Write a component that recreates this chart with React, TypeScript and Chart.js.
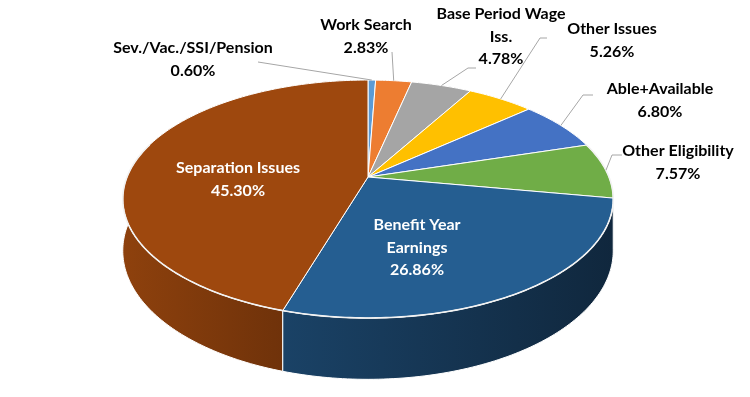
import React, { useEffect, useRef } from 'react';
import { Chart, PieController, ArcElement } from 'chart.js';

Chart.register(PieController, ArcElement);

// ---- data ----
const categories = [
  'Sev./Vac./SSI/Pension',
  'Work Search',
  'Base Period Wage Iss.',
  'Other Issues',
  'Able+Available',
  'Other Eligibility',
  'Benefit Year Earnings',
  'Separation Issues',
];
const shares = [0.6, 2.83, 4.78, 5.26, 6.8, 7.57, 26.86, 45.3];
const labelLines = [
  ['Sev./Vac./SSI/Pension'],
  ['Work Search'],
  ['Base Period Wage', 'Iss.'],
  ['Other Issues'],
  ['Able+Available'],
  ['Other Eligibility'],
  ['Benefit Year', 'Earnings'],
  ['Separation Issues'],
];
const topColors = ['#5B9BD5', '#ED7D31', '#A5A5A5', '#FFC000', '#4472C4', '#70AD47', '#255E91', '#9E480E'];

// ---- layout (3D perspective projection of the pie) ----
const CX = 368;
const CY = 177;
const RX = 241;
const PERSP = -0.185;
const RY = 114.9;
const DEPTH = 50;
const LINE_H = 22.5;
const FONT = 'bold 16px Lato, "Open Sans", sans-serif';

type LabelLayout = { x: number; y: number; inside: boolean; leader: number[][] };
const labelLayout: LabelLayout[] = [
  { x: 193, y: 48, inside: false, leader: [[258, 62]] },
  { x: 366, y: 25, inside: false, leader: [[392, 52]] },
  { x: 501, y: 14, inside: false, leader: [[476, 68], [468, 68]] },
  { x: 612, y: 29, inside: false, leader: [[547, 38], [540, 38]] },
  { x: 660, y: 89, inside: false, leader: [[593, 95], [583, 95]] },
  { x: 678, y: 151, inside: false, leader: [[622, 155], [612, 155]] },
  { x: 417, y: 225, inside: true, leader: [] },
  { x: 238, y: 168, inside: true, leader: [] },
];

function proj(t: number, d = 0): [number, number] {
  const u = Math.sin(t);
  const v = -Math.cos(t);
  const den = 1 + PERSP * v;
  return [CX + (RX * u) / den, CY + (RY * v + d) / den];
}

function shade(hex: string, f: number): string {
  const n = parseInt(hex.slice(1), 16);
  const r = Math.round(((n >> 16) & 255) * f);
  const g = Math.round(((n >> 8) & 255) * f);
  const b = Math.round((n & 255) * f);
  return `rgb(${r},${g},${b})`;
}

function arcPoints(t1: number, t2: number, d: number): [number, number][] {
  const pts: [number, number][] = [];
  const steps = Math.max(2, Math.ceil(((t2 - t1) / (Math.PI * 2)) * 360));
  for (let k = 0; k <= steps; k++) {
    pts.push(proj(t1 + ((t2 - t1) * k) / steps, d));
  }
  return pts;
}

const pie3d = {
  id: 'pie3d',
  beforeDatasetsDraw(chart: any) {
    const ctx: CanvasRenderingContext2D = chart.ctx;
    const meta = chart.getDatasetMeta(0);
    const arcs = meta.data.map((el: any, i: number) => ({
      i,
      t1: el.startAngle + Math.PI / 2,
      t2: el.endAngle + Math.PI / 2,
    }));

    ctx.save();
    // walls, back to front
    const walls = arcs
      .map((a: any) => ({ ...a, v: -Math.cos((a.t1 + a.t2) / 2) }))
      .sort((p: any, q: any) => p.v - q.v);
    walls.forEach((a: any) => {
      const top = arcPoints(a.t1, a.t2, 0);
      const bot = arcPoints(a.t1, a.t2, DEPTH).reverse();
      const grad = ctx.createLinearGradient(CX - RX - 5, 0, CX + RX + 5, 0);
      grad.addColorStop(0, shade(topColors[a.i], 0.9));
      grad.addColorStop(0.33, shade(topColors[a.i], 0.7));
      grad.addColorStop(1, shade(topColors[a.i], 0.42));
      ctx.beginPath();
      top.concat(bot).forEach((p, k) => (k ? ctx.lineTo(p[0], p[1]) : ctx.moveTo(p[0], p[1])));
      ctx.closePath();
      ctx.fillStyle = grad;
      ctx.fill();
      ctx.strokeStyle = '#FFFFFF';
      ctx.lineWidth = 1;
      ctx.stroke();
    });

    // top face
    arcs.forEach((a: any) => {
      ctx.beginPath();
      ctx.moveTo(CX, CY);
      arcPoints(a.t1, a.t2, 0).forEach((p) => ctx.lineTo(p[0], p[1]));
      ctx.closePath();
      ctx.fillStyle = topColors[a.i];
      ctx.fill();
      ctx.strokeStyle = '#FFFFFF';
      ctx.lineWidth = 1;
      ctx.stroke();
    });

    // rim highlight on front edge
    ctx.beginPath();
    arcPoints(Math.PI / 2 - 0.3, (Math.PI * 3) / 2 + 0.3, 0).forEach((p, k) =>
      k ? ctx.lineTo(p[0], p[1]) : ctx.moveTo(p[0], p[1])
    );
    ctx.strokeStyle = '#F2F2F2';
    ctx.lineWidth = 1.6;
    ctx.stroke();

    // labels + leader lines
    ctx.font = FONT;
    ctx.textAlign = 'center';
    ctx.textBaseline = 'middle';
    arcs.forEach((a: any) => {
      const lay = labelLayout[a.i];
      const lines = labelLines[a.i].concat([shares[a.i].toFixed(2) + '%']);
      if (!lay.inside) {
        const mid = proj((a.t1 + a.t2) / 2, 0);
        ctx.beginPath();
        lay.leader.forEach((p, k) => (k ? ctx.lineTo(p[0], p[1]) : ctx.moveTo(p[0], p[1])));
        ctx.lineTo(mid[0], mid[1]);
        ctx.strokeStyle = '#A6A6A6';
        ctx.lineWidth = 1;
        ctx.stroke();
      }
      ctx.fillStyle = lay.inside ? '#FFFFFF' : '#000000';
      lines.forEach((s, k) => ctx.fillText(s, lay.x, lay.y + k * LINE_H));
    });
    ctx.restore();
    return false;
  },
};

export default function App() {
  const ref = useRef<HTMLCanvasElement>(null);
  useEffect(() => {
    document.body.style.margin = '0';
    const chart = new Chart(ref.current as HTMLCanvasElement, {
      type: 'pie',
      data: {
        labels: categories,
        datasets: [
          {
            data: shares,
            backgroundColor: 'rgba(0,0,0,0)',
            borderWidth: 0,
          },
        ],
      },
      options: {
        responsive: false,
        animation: false,
        devicePixelRatio: 1,
        rotation: 0,
        events: [],
        plugins: { legend: { display: false }, tooltip: { enabled: false } },
      },
      plugins: [pie3d],
    } as any);
    return () => chart.destroy();
  }, []);
  return (
    <div style={{ width: 750, height: 397, background: '#FFFFFF' }}>
      <canvas ref={ref} width={750} height={397} />
    </div>
  );
}
